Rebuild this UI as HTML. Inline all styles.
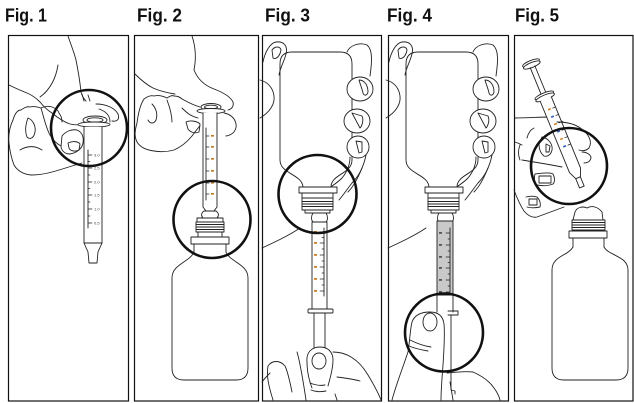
<!DOCTYPE html>
<html><head><meta charset="utf-8">
<style>html,body{margin:0;padding:0;background:#fff;width:634px;height:403px;overflow:hidden}</style>
</head><body>
<svg width="634" height="403" viewBox="0 0 634 403" xmlns="http://www.w3.org/2000/svg">
<rect width="634" height="403" fill="#fff"/>
<g font-family="Liberation Sans, Arial, sans-serif" font-weight="bold" font-size="18.5" fill="#111">
<text x="5" y="21.5" textLength="42" lengthAdjust="spacingAndGlyphs">Fig. 1</text>
<text x="137" y="21.5" textLength="45" lengthAdjust="spacingAndGlyphs">Fig. 2</text>
<text x="265" y="21.5" textLength="45" lengthAdjust="spacingAndGlyphs">Fig. 3</text>
<text x="387" y="21.5" textLength="45" lengthAdjust="spacingAndGlyphs">Fig. 4</text>
<text x="515" y="21.5" textLength="44" lengthAdjust="spacingAndGlyphs">Fig. 5</text>
</g>
<g fill="none" stroke="#111" stroke-width="1.2">
<rect x="8.5" y="35.5" width="120" height="365.5"/>
<rect x="134.5" y="35.5" width="124" height="365.5"/>
<rect x="262.5" y="35.5" width="119" height="365.5"/>
<rect x="388.5" y="35.5" width="120" height="365.5"/>
<rect x="514.5" y="35.5" width="118.5" height="365.5"/>
</g>

<!-- FIG 1 -->
<g fill="none" stroke="#222" stroke-width="0.9" stroke-linecap="round" stroke-linejoin="round">
<path d="M68,36 C71,45 74,52 76,60 C78,70 80,82 81,92 C82,96 84,99 86,101"/>
<path d="M58,65 C56,78 50,90 40,97"/>
<path d="M9,85 C15,88 22,91 27,93 C32,95 36,98 40,102 C44,107 47,110 52,113 C58,118 64,122 70,124 C74,125 78,125 82,125"/>
<path d="M13,120 C15,113 18,110 21,110 C24,108 27,106 30,107 C34,106 38,107 41,108 C45,106 49,106 52,107 C55,108 58,110 59,113 C61,116 62,118 62,122"/>
<path d="M13,120 C10,126 8,135 9,143 C10,152 12,160 14,165 C17,170 22,174 31,175 C38,175 45,174 52,172 C60,170 68,167 82,163"/>
<path d="M28,118 C33,120 36,126 35,132 C34,138 30,140 27,137 C25,132 25,126 28,118"/>
<path d="M41,108 C44,118 46,128 50,135 C53,140 57,144 61,146"/>
<path d="M20,150 C28,145 36,146 42,150"/>
<path d="M62,136 C66,131 72,129 77,130 C82,132 84,137 83,143 C82,149 76,153 70,154 C65,154 62,151 61,147 Z" fill="#fff"/>
<path d="M68,143 C72,141 78,141 80,144 L79,150 C75,152 70,151 69,148 Z"/>
<path d="M96,104 C106,104 115,108 118,114 C120,119 117,122 112,121"/>
<path d="M99,109 C105,111 110,115 110,122"/>
<path d="M82,94 L84,101 M88,95 L90,101"/>
<ellipse cx="95" cy="120" rx="12" ry="4" fill="#fff"/>
<ellipse cx="95" cy="120" rx="8" ry="2.2"/>
<ellipse cx="94" cy="124.5" rx="16" ry="2.5" fill="#fff"/>
<path d="M84,127 L84,243 L88,252 L89,263 L97,263 L98,252 L102,243 L102,127" fill="#fff"/>
<path d="M84,243 L102,243 M88,150 L88,228"/>
<path d="M88,155 L92,155 M88,168 L92,168 M88,182 L92,182 M88,195 L92,195 M88,209 L92,209 M88,223 L92,223 M88,161.5 L90,161.5 M88,175 L90,175 M88,188.5 L90,188.5 M88,202 L90,202 M88,216 L90,216" stroke-width="0.7"/>
</g>
<g font-family="Liberation Sans, sans-serif" font-size="4" fill="#445">
<text x="94" y="156.5">3.0</text><text x="94" y="169.5">2.5</text><text x="94" y="183.5">2.0</text>
<text x="94" y="196.5">1.5</text><text x="94" y="210.5">1.0</text><text x="94" y="224.5">0.5</text>
</g>

<!-- FIG 2 -->
<g fill="none" stroke="#222" stroke-width="0.9" stroke-linecap="round" stroke-linejoin="round">
<path d="M192,36 C196,48 196,60 194,70 C198,80 206,86 214,89 C222,92 230,96 233,102 C234,106 232,109 228,110"/>
<path d="M135,74 C141,80 147,85 153,88 C160,91 168,93 175,94"/>
<path d="M144,99 C148,96 151,95 154,96 C158,95 163,96 167,98 C170,96 172,95 174,96 C177,96 180,97 182,99 C186,101 190,104 200,107"/>
<path d="M144,99 C140,105 138,115 137,123 C135,130 134,136 137,142 C140,147 146,150 154,151 C160,152 167,152 174,150 C181,147 187,142 192,136 C195,132 197,129 200,126"/>
<path d="M152,104 C156,108 158,114 156,120 C154,124 150,124 148,120"/>
<path d="M167,100 C170,108 172,115 172,122"/>
<path d="M182,108 C186,112 190,116 198,118"/>
<path d="M186,122 C190,120 197,121 200,124 L199,132 C195,134 190,132 188,129 Z"/>
<path d="M224,113 C230,114 235,118 236,124 C237,130 233,135 226,136"/>
<ellipse cx="211" cy="107" rx="10" ry="3.5" fill="#fff"/>
<ellipse cx="211" cy="107" rx="6.5" ry="1.8"/>
<ellipse cx="211" cy="111" rx="14" ry="2.5" fill="#fff"/>
<path d="M203,113 L203,207 L206,211 L214,211 L217,207 L217,113" fill="#fff"/>
<path d="M206,128 L206,200"/>
<path d="M206,136 L209,136 M206,147 L209,147 M206,159 L209,159 M206,171 L209,171 M206,183 L209,183 M206,194 L209,194" stroke-width="0.7"/>
<path d="M204,211 C201,213 201,216 203,218 L217,218 C219,216 219,213 216,211 Z" fill="#fff"/>
<rect x="197" y="218" width="26" height="4"/>
<rect x="196" y="222" width="28" height="10"/>
<path d="M196,224.5 L224,224.5 M196,227 L224,227 M196,229.5 L224,229.5"/>
<rect x="198" y="232" width="24" height="5"/>
<rect x="191" y="237" width="38" height="7"/>
<path d="M194,244 L194,252 M226,244 L226,252"/>
<path d="M194,252 C190,262 172,264 172,278 L172,368 Q172,380 184,380 L236,380 Q248,380 248,368 L248,278 C248,264 230,262 226,252"/>
</g>
<g fill="#c07820">
<rect x="211" y="135" width="3" height="1.6"/><rect x="211" y="146" width="3" height="1.6"/><rect x="211" y="158" width="3" height="1.6"/>
<rect x="211" y="170" width="3" height="1.6"/><rect x="211" y="182" width="3" height="1.6"/><rect x="211" y="193" width="3" height="1.6"/>
</g>

<!-- FIG 3 and FIG 4 shared upper hand + bottle -->
<g id="upper" fill="none" stroke="#222" stroke-width="0.9" stroke-linecap="round" stroke-linejoin="round">
<path d="M303,187 C302,174 280,174 280,160 L280,64 Q280,52 292,52 L340,52 Q352,52 352,64 L352,160 C352,174 331,174 331,187"/>
<rect x="299" y="187" width="38" height="6" fill="#fff"/>
<rect x="302" y="193" width="31" height="5"/>
<rect x="302" y="198" width="31" height="12"/>
<path d="M302,201.5 L333,201.5 M302,204 L333,204 M302,206.5 L333,206.5" stroke-width="1.1"/>
<rect x="305" y="210" width="25" height="3"/>
<path d="M263,62 C265,52 270,43 276,42 C284,41 288,46 286,54 C284,62 280,68 279,75"/>
<path d="M272,50 C275,46 280,46 281,50 C280,56 276,60 273,58 Z"/>
<path d="M260,80 C268,82 273,88 274,96 C275,104 270,112 260,118"/>
<path d="M347,52 C350,45 360,42 367,45 C373,50 372,62 370,76"/>
<ellipse cx="360" cy="89" rx="13" ry="12" fill="#fff"/>
<path d="M359,80 C365,80 368,86 368,92 C367,96 364,96 363,93 C362,88 360,84 359,80 Z"/>
<ellipse cx="357" cy="121" rx="13" ry="12" fill="#fff"/>
<path d="M352,113 L362,116 C364,120 362,126 360,128 Z"/>
<ellipse cx="358" cy="147" rx="11" ry="11" fill="#fff"/>
<path d="M356,141 L362,142 L362,152 L359,153 Z"/>
<path d="M350,157 C350,165 347,172 342,178 C338,182 335,184 332,186"/>
<path d="M366,155 C364,165 360,175 352,183 C348,188 344,194 339,200"/>
<path d="M362,168 C358,178 354,186 348,192"/>
<path d="M262,248 C275,242 288,236 300,228"/>
</g>
<use href="#upper" transform="translate(126,0)"/>

<!-- FIG 3 syringe + hand -->
<g fill="none" stroke="#222" stroke-width="0.9" stroke-linecap="round" stroke-linejoin="round">
<path d="M313,213 C311,216 311,220 313,222 L326,222 C328,220 328,216 326,213 Z" fill="#fff"/>
<rect x="312" y="222" width="15" height="87" fill="#fff"/>
<path d="M324,228 L324,296"/>
<path d="M320,232 L324,232 M320,243 L324,243 M320,255 L324,255 M320,267 L324,267 M320,279 L324,279 M320,291 L324,291 M322,237.5 L324,237.5 M322,249 L324,249 M322,261 L324,261 M322,273 L324,273 M322,285 L324,285" stroke-width="0.7"/>
<rect x="308" y="309" width="25" height="4" rx="1" fill="#fff"/>
<path d="M314,313 L314,352 M325,313 L325,352"/>
<path d="M307,362 C306,352 312,347 320,347 C328,347 333,352 333,360 C333,370 330,378 328,386" fill="#fff"/>
<path d="M307,362 C307,372 309,380 312,388"/>
<ellipse cx="319" cy="361" rx="7" ry="8"/>
<path d="M310,383 C315,385 320,386 325,385 M311,390 C316,392 320,392 326,391"/>
<path d="M297,352 C300,362 303,380 306,400"/>
<path d="M273,400 C270,390 266,378 268,366 C272,360 280,360 285,366 C288,372 290,382 292,392"/>
<path d="M262,382 C265,378 268,375 270,373"/>
<path d="M333,352 C345,352 358,358 368,375 C374,385 378,392 381,400"/>
<path d="M337,377 C345,378 353,379 360,381 M335,394 L337,400"/>
</g>
<g fill="#d08020">
<rect x="314" y="231" width="3" height="1.8"/><rect x="314" y="242" width="3" height="1.8"/><rect x="314" y="254" width="3" height="1.8"/>
<rect x="314" y="266" width="3" height="1.8"/><rect x="314" y="278" width="3" height="1.8"/><rect x="314" y="290" width="3" height="1.8"/>
</g>

<!-- FIG 4 syringe + hand -->
<g fill="none" stroke="#222" stroke-width="0.9" stroke-linecap="round" stroke-linejoin="round">
<path d="M439,213 C437,216 437,220 439,222 L452,222 C454,220 454,216 452,213 Z" fill="#fff"/>
<rect x="437" y="221" width="16" height="74" fill="#c9c9c9"/>
<path d="M450,228 L450,294"/>
<path d="M446,233 L450,233 M446,245 L450,245 M446,257 L450,257 M446,268 L450,268 M446,280 L450,280 M446,292 L450,292 M448,239 L450,239 M448,251 L450,251 M448,262.5 L450,262.5 M448,274 L450,274 M448,286 L450,286" stroke-width="0.7"/>
<path d="M437,295 L437,312 M453,295 L453,312"/>
<path d="M448,311 L458,311 L458,315 L448,315"/>
<path d="M439,315 L439,392 M451,315 L451,390 L455,391 L455,394"/>
<path d="M392,400 C396,385 402,370 408,352 C410,340 410,330 412,322 C415,314 422,312 430,312 C438,312 443,316 444,324 C445,335 444,350 443,365 C442,378 441,390 441,400" fill="#fff"/>
<ellipse cx="430" cy="322" rx="7" ry="9"/>
<path d="M410,340 C416,343 424,346 431,347 M409,346 C416,349 422,350 428,351"/>
<path d="M447,373 C456,372 466,371 473,372 C482,376 490,382 494,388 C497,392 499,396 500,400"/>
<path d="M450,382 L453,400"/>
</g>
<g fill="#555">
<rect x="439" y="232" width="3" height="1.8"/><rect x="439" y="244" width="3" height="1.8"/><rect x="439" y="256" width="3" height="1.8"/>
<rect x="439" y="267" width="3" height="1.8"/><rect x="439" y="279" width="3" height="1.8"/><rect x="439" y="291" width="3" height="1.8"/>
</g>

<!-- FIG 5 -->
<g fill="none" stroke="#222" stroke-width="0.9" stroke-linecap="round" stroke-linejoin="round">
<path d="M515,118 C527,118 540,117 550,117 C556,118 560,120 563,122"/>
<path d="M515,142 C518,143 520,144 522,145 M534,128 C530,130 528,134 527,138"/>
<path d="M542,137 C548,138 553,144 552,150 C551,155 547,157 544,156 C540,153 539,148 539,144 Z"/>
<path d="M546,144 L550,146 L549,152 L546,152 Z"/>
<path d="M522,160 C528,161 534,162 540,163 C546,164 552,165 562,167"/>
<path d="M535,174 C542,173 550,172 553,174 C555,178 555,182 553,184 C548,186 542,186 537,185 C534,182 534,177 535,174 Z"/>
<path d="M539,176 L551,176 L551,183 L539,183 Z"/>
<path d="M526,197 C530,196 534,196 537,197 C540,200 541,204 540,207 C535,208 530,208 527,207"/>
<path d="M529,199 L537,199 L537,205 L529,205 Z"/>
<path d="M514,190 C517,198 520,205 524,211 C528,216 533,218 537,217 C545,214 556,210 564,207"/>
<path d="M520,145 C518,150 518,155 520,160"/>
<g transform="translate(531,63) rotate(-22.3)">
<ellipse cx="0" cy="0" rx="9" ry="2.5" fill="#fff"/>
<ellipse cx="0" cy="2.2" rx="9" ry="2.5" fill="#fff"/>
<path d="M-2.5,4 L-2.5,34 M2.5,4 L2.5,34"/>
<ellipse cx="0" cy="35" rx="10" ry="2.5" fill="#fff"/>
<ellipse cx="0" cy="37.2" rx="10" ry="2.5" fill="#fff"/>
<path d="M-6,39 L-6,116 L-2.5,124 L-2.5,134 L2.5,134 L2.5,124 L6,116 L6,39" fill="#fff"/>
<path d="M-2.5,124 L2.5,124"/>
<path d="M3,50 L6,50 M3,58 L6,58 M3,66 L6,66 M3,74 L6,74 M3,82 L6,82 M3,90 L6,90" stroke-width="0.7"/>
<g stroke="none"><rect x="-2" y="49" width="3" height="1.6" fill="#d08020"/><rect x="-2" y="57" width="3" height="1.6" fill="#3060c0"/><rect x="-2" y="65" width="3" height="1.6" fill="#d08020"/><rect x="-2" y="73" width="3" height="1.6" fill="#3060c0"/><rect x="-2" y="81" width="3" height="1.6" fill="#d08020"/><rect x="-2" y="89" width="3" height="1.6" fill="#3060c0"/></g>
</g>
<path d="M557,122 C568,122 578,125 584,131 C590,136 592,143 589,148 C586,151 582,151 579,150"/>
<path d="M582,152 C587,152 591,155 591,158 C590,162 587,163 584,163"/>
<path d="M575,212 C577,207 583,206 587,208 C592,205 598,207 602,212 L603,220 L573,220 Z" fill="#fff"/>
<rect x="572" y="220" width="33" height="10"/>
<path d="M572,222.5 L605,222.5 M572,225 L605,225 M572,227.5 L605,227.5"/>
<rect x="569" y="231" width="38" height="7"/>
<path d="M573,238 L573,247 M604,238 L604,247"/>
<path d="M573,247 C568,256 552,256 552,270 L552,368 Q552,380 564,380 L616,380 Q628,380 628,368 L628,270 C628,256 609,256 604,247"/>
</g>

<!-- magnifier circles -->
<g fill="none" stroke="#111" stroke-width="2.6">
<circle cx="89" cy="128" r="38"/>
<circle cx="212" cy="219.5" r="38.5"/>
<circle cx="317.5" cy="194" r="39"/>
<circle cx="444" cy="332.5" r="39"/>
<circle cx="569" cy="166" r="38"/>
</g>
</svg>
</body></html>
